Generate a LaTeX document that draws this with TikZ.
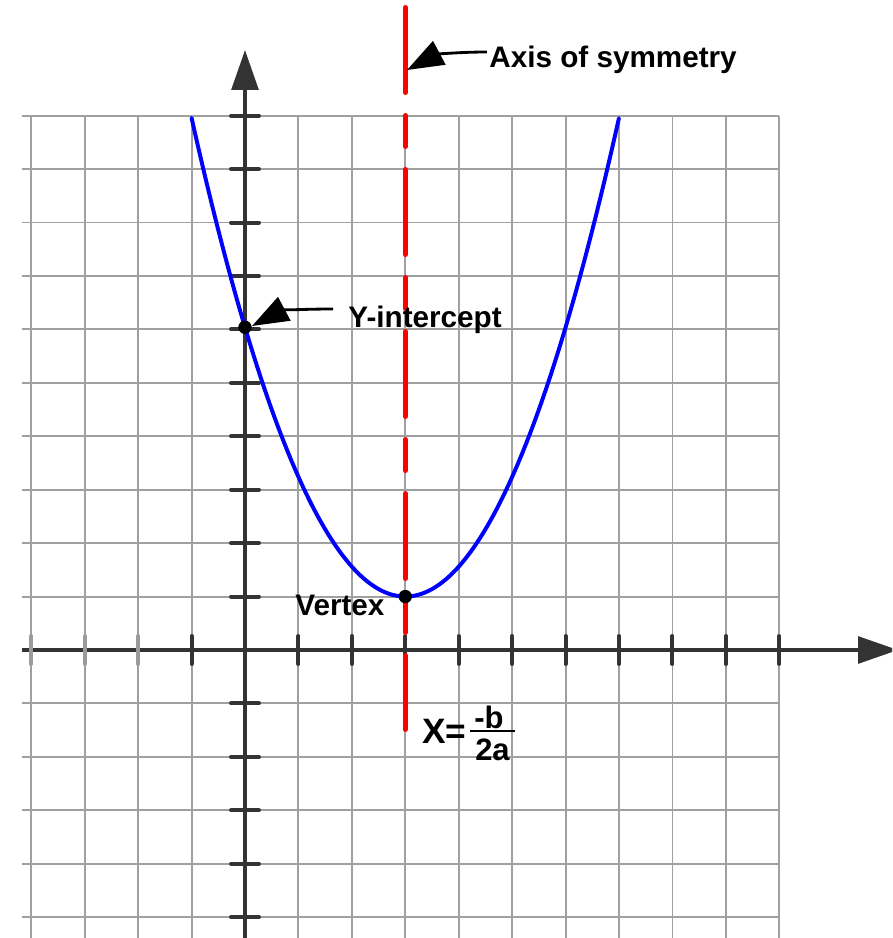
\documentclass[tikz,border=0pt]{standalone}
\usepackage{fontspec}
\setmainfont{Liberation Sans}
\usetikzlibrary{arrows.meta}
\definecolor{gridgray}{RGB}{160,160,160}
\definecolor{axisgray}{RGB}{51,51,51}
\definecolor{ticklight}{RGB}{155,155,155}
\tikzset{
  gridline/.style={gridgray, line width=1pt},
  axisline/.style={axisgray, line width=2.1pt, -{Triangle[length=21.3pt,width=14.2pt]}},
  tickdark/.style={axisgray, line width=2.1pt, line cap=round},
  ticklite/.style={ticklight, line width=2.1pt, line cap=round},
  symline/.style={red, line width=2.66pt, line cap=round,
    dash pattern=on 45.27pt off 12.25pt on 16.5pt off 12.25pt},
  parab/.style={blue, line width=2.1pt, line cap=round},
  dotnode/.style={circle, fill=black, inner sep=0pt, minimum size=0.25cm},
  lbl/.style={font=\fontsize{15.8}{18}\selectfont\bfseries, inner sep=0pt, text=black},
  fracl/.style={font=\fontsize{16.5}{19}\selectfont\bfseries, inner sep=0pt, text=black},
  bigl/.style={font=\fontsize{18.8}{21}\selectfont\bfseries, inner sep=0pt, text=black},
  callout/.style={black, line width=1.5pt, -{Triangle[length=19.5pt,width=14pt]}}
}
\begin{document}
\begin{tikzpicture}[x=1cm,y=1cm]
\useasboundingbox (-4.5855,-5.3902) rectangle (12.1093,12.1654);
\clip (-4.5855,-5.3902) rectangle (12.1093,12.1654);
% grid
\foreach \i in {-4,...,10} \draw[gridline] (\i,-5.3902) -- (\i,10);
\foreach \j in {-5,...,10} \draw[gridline] (-4.174,\j) -- (10,\j);
% axes
\coordinate (xstart) at (-4.174,0);
\coordinate (xend) at (12.222,0);
\coordinate (ystart) at (0,-5.3902);
\coordinate (yend) at (0,11.230);
\draw[axisline] (xstart) -- (xend);
\draw[axisline] (ystart) -- (yend);
% ticks
\foreach \i in {-1,1,2,...,10} \draw[tickdark] (\i,-0.262) -- (\i,0.262);
\foreach \i in {-4,-3,-2} \draw[ticklite] (\i,-0.262) -- (\i,0.262);
\foreach \j in {-5,...,10} \draw[tickdark] (-0.262,\j) -- (0.262,\j);
% axis of symmetry
\coordinate (symtop) at (3,12.025);
\coordinate (symbot) at (3,-1.488);
\draw[symline] (symtop) -- (symbot);
% parabola
\draw[parab] plot[domain=-1:7, samples=120, smooth] (\x, {0.56*(\x-3)^2+1});
% points
\node[dotnode] (vtx) at (3,1) {};
\node[dotnode] (yint) at (0,6.04) {};
% labels
\node[lbl, anchor=base west] (axislbl) at (4.567,10.893) {Axis of symmetry};
\node[lbl, anchor=base west] (yintlbl) at (1.928,6.045) {Y-intercept};
\node[lbl, anchor=base west] (vtxlbl) at (0.936,0.655) {Vertex};
\node[bigl, anchor=base west] (xeq) at (3.313,-1.759) {X=};
\node[fracl, anchor=base] (numer) at (4.567,-1.460) {-b};
\node[fracl, anchor=base] (denom) at (4.632,-2.059) {2a};
\coordinate (barl) at (4.211,-1.516);
\coordinate (barr) at (5.053,-1.516);
\draw[black, line width=1.4pt] (barl) -- (barr);
% callouts
\coordinate (axstart) at (4.529,11.192);
\coordinate (axtip) at (3.032,10.855);
\draw[callout] (axstart) to[out=180,in=28] (axtip);
\coordinate (yistart) at (1.647,6.382);
\coordinate (yitip) at (0.131,6.064);
\draw[callout] (yistart) to[out=180,in=28] (yitip);
\end{tikzpicture}
\end{document}
